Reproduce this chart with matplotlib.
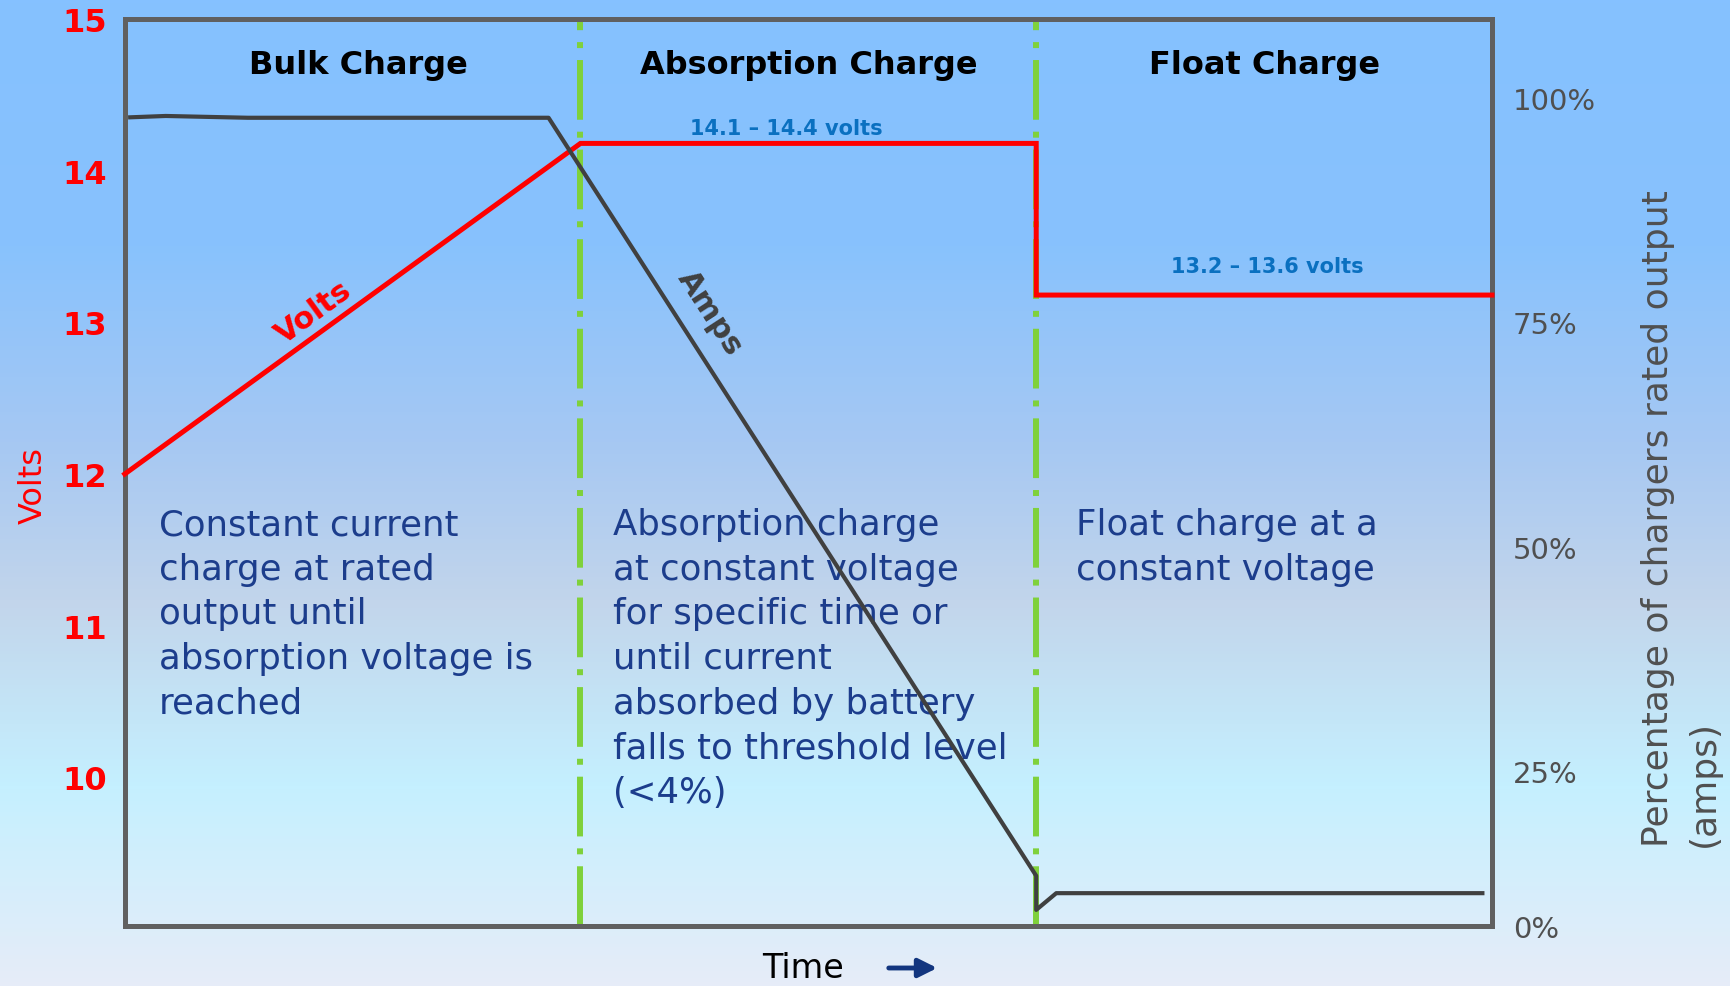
import numpy as np
import matplotlib
matplotlib.use("Agg")
import matplotlib.pyplot as plt
from matplotlib.colors import LinearSegmentedColormap

# Time runs in stage units: bulk 0-1, absorption 1-2, float 2-3
stage_names = ["Bulk Charge", "Absorption Charge", "Float Charge"]
stage_centers = [0.513, 1.5, 2.5]
stage_bounds = [1, 2]

# Charger voltage
volts_time = [0, 1, 2, 2, 3]
volts = [12.0, 14.18, 14.18, 13.18, 13.18]

# Charger current, % of rated output
amps_time = [0.012, 0.09, 0.27, 0.93, 2.0, 2.0, 2.044, 2.979]
amps_pct = [97.85, 98.0, 97.8, 97.8, 8.1, 2.6, 5.3, 5.3]

volt_ticks = [10, 11, 12, 13, 14, 15]
pct_ticks = [0, 25, 50, 75, 100]
pct_labels = ["0%", "25%", "50%", "75%", "100%"]

range_labels = ["14.1 \u2013 14.4 volts", "13.2 \u2013 13.6 volts"]
range_pos = [(1.451, 14.24), (2.507, 13.33)]

stage_notes = [
    "Constant current\ncharge at rated\noutput until\nabsorption voltage is\nreached",
    "Absorption charge\nat constant voltage\nfor specific time or\nuntil current\nabsorbed by battery\nfalls to threshold level\n(<4%)",
    "Float charge at a\nconstant voltage",
]
note_x = [0.075, 1.072, 2.088]

RED = "#FF0000"
NAVY = "#1C3D8C"
GREY = "#505050"

plt.rcParams["font.family"] = ["DejaVu Sans"]

# the 0-25% band of the current axis is squeezed
LOW = 25.0
LOW_SPAN = 0.69


def pct_forward(v):
    v = np.asarray(v, dtype=float)
    return np.where(v < LOW, v / LOW * LOW_SPAN, LOW_SPAN + (v - LOW) / LOW)


def pct_inverse(u):
    u = np.asarray(u, dtype=float)
    return np.where(u < LOW_SPAN, u / LOW_SPAN * LOW, LOW + (u - LOW_SPAN) * LOW)


fig = plt.figure(figsize=(17.3, 9.87), dpi=100)

# background gradient
bg = fig.add_axes([0, 0, 1, 1], zorder=-1)
grad_cmap = LinearSegmentedColormap.from_list("bg", [
    (0.0, "#85C1FF"), (0.25, "#88C2FD"), (0.45, "#A6C8F3"),
    (0.61, "#C2D5EB"), (0.80, "#C5F0FF"), (1.0, "#E6ECF8")])
bg.imshow(np.linspace(0, 1, 256).reshape(-1, 1), aspect="auto", cmap=grad_cmap,
          extent=[0, 1, 0, 1])
bg.axis("off")

ax = fig.add_axes([0.0721, 0.0608, 0.7903, 0.9189])
ax.set_facecolor("none")
ax.set_xlim(0, 3)
ax.set_ylim(9.02, 15.0)

for b in stage_bounds:
    ax.axvline(b, color="#7FD13B", lw=4.3, linestyle=(0, (10, 2, 1, 2)), zorder=1)

ax.plot(volts_time, volts, color=RED, lw=3.6, solid_joinstyle="miter",
        clip_on=False, zorder=3)

for name, cx in zip(stage_names, stage_centers):
    ax.text(cx, 14.645, name, ha="center", va="baseline", fontsize=23,
            fontweight="bold", color="black")

for lbl, (lx, ly) in zip(range_labels, range_pos):
    ax.text(lx, ly, lbl, ha="center", va="baseline", fontsize=15,
            fontweight="bold", color="#0A70C0")

for note, nx in zip(stage_notes, note_x):
    ax.text(nx, 11.78, note, ha="left", va="top", fontsize=25.6, color=NAVY,
            linespacing=1.39)

ax.text(0.415, 13.07, "Volts", rotation=36, ha="center", va="center",
        fontsize=22, fontweight="bold", color=RED, rotation_mode="anchor")
ax.text(1.284, 13.07, "Amps", rotation=-57, ha="center", va="center",
        fontsize=22, fontweight="bold", color="#404040", rotation_mode="anchor")

ax.set_xticks([])
ax.set_yticks(volt_ticks, labels=[str(v) for v in volt_ticks],
              fontweight="bold")
ax.tick_params(axis="y", length=0, pad=13, labelsize=23, labelcolor=RED)
for sp in ax.spines.values():
    sp.set_color("#606060")
    sp.set_linewidth(3.6)

ax2 = ax.twinx()
ax2.set_yscale("function", functions=(pct_forward, pct_inverse))
ax2.set_ylim(0, 108.8)
ax2.plot(amps_time, amps_pct, color="#404040", lw=3.0, clip_on=False, zorder=3)
ax2.set_yticks(pct_ticks, labels=pct_labels)
ax2.yaxis.set_minor_locator(matplotlib.ticker.NullLocator())
ax2.tick_params(axis="y", length=0, pad=15, labelsize=21, labelcolor=GREY)
for sp in ax2.spines.values():
    sp.set_visible(False)

fig.text(33 / 1730, 1 - 485 / 987, "Volts", rotation=90, ha="center",
         va="center", fontsize=23, color=RED)
fig.text(1681 / 1730, 1 - 847 / 987,
         "Percentage of chargers rated output\n(amps)", rotation=90,
         ha="center", va="bottom", multialignment="left", fontsize=26,
         color=GREY, linespacing=1.44)

fig.text(803 / 1730, 1 - 969 / 987, "Time", ha="center", va="center",
         fontsize=24, color="black")
fig.add_artist(matplotlib.patches.FancyArrowPatch(
    (886 / 1730, 1 - 969 / 987), (940 / 1730, 1 - 969 / 987),
    transform=fig.transFigure, arrowstyle="-|>", mutation_scale=28,
    color="#12357F", lw=3.5))

fig.savefig("out.png", dpi=100)
